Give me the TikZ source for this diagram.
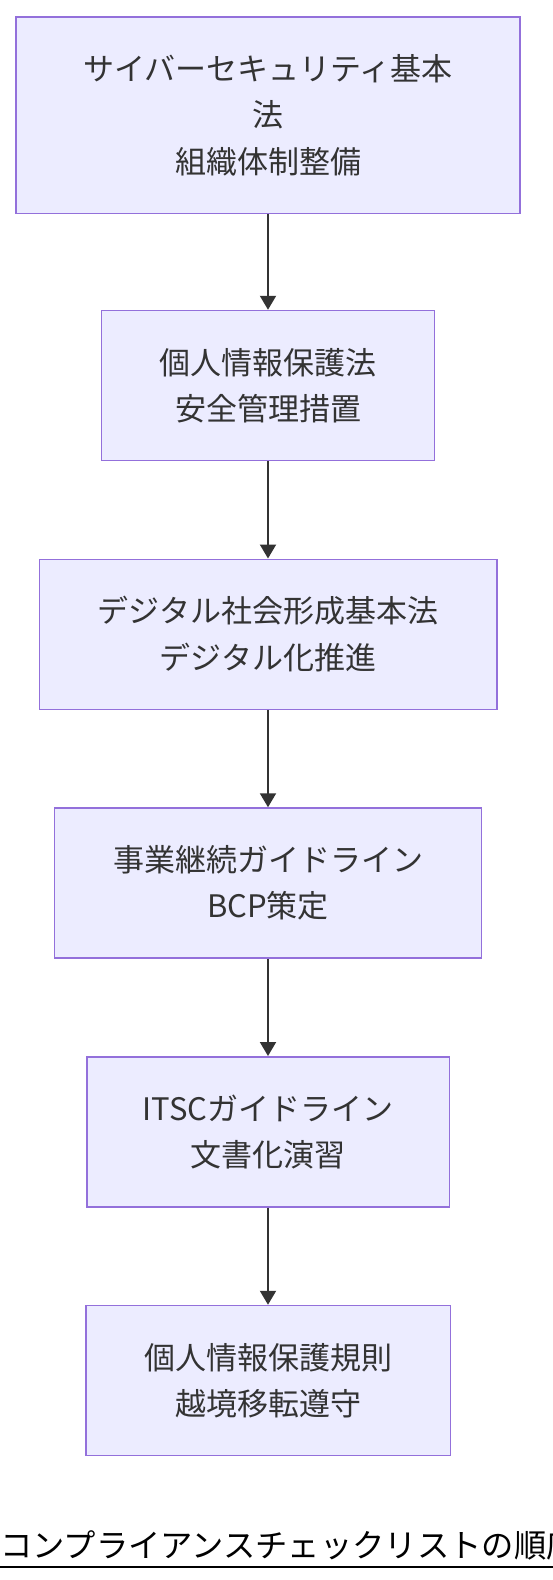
\documentclass[tikz,border=0pt]{standalone}
\usepackage{fontspec}
\setmainfont{Noto Sans CJK JP}
\usetikzlibrary{arrows.meta}
\definecolor{boxfill}{HTML}{ECECFF}
\definecolor{boxline}{HTML}{9370DB}
\definecolor{ink}{HTML}{333333}
\begin{document}
\begin{tikzpicture}[
        x = 1pt, y = -1pt,
        law/.style = {draw = boxline, fill = boxfill, line width = 1.5pt, text = ink,
          align = center, inner sep = 0pt, minimum height = 150pt,
          font = \fontsize{31}{46.5}\selectfont},
        flow/.style = {draw = ink, line width = 2pt,
          -{Triangle[width = 16pt, length = 14pt]}}]
      \useasboundingbox (0, 0) rectangle (552, 1580);
      \node [law, minimum width = 504pt, minimum height = 196.5pt] (cyber) at (268, 115)
        {サイバーセキュリティ基本\\法\\組織体制整備};
      \node [law, minimum width = 333pt] (privacy) at (268, 385.5) {個人情報保護法\\安全管理措置};
      \node [law, minimum width = 457.5pt] (digital) at (268, 634.25) {デジタル社会形成基本法\\デジタル化推進};
      \node [law, minimum width = 427pt] (bcp) at (268, 883) {事業継続ガイドライン\\BCP策定};
      \node [law, minimum width = 362.5pt] (itsc) at (268, 1131.75) {ITSCガイドライン\\文書化演習};
      \node [law, minimum width = 364.5pt] (rules) at (268, 1380.5) {個人情報保護規則\\越境移転遵守};
      \draw [flow] (cyber) -- (privacy);
      \draw [flow] (privacy) -- (digital);
      \draw [flow] (digital) -- (bcp);
      \draw [flow] (bcp) -- (itsc);
      \draw [flow] (itsc) -- (rules);
      % title, cut off at the right edge
      \node [anchor = base west, inner sep = 0pt, font = \fontsize{32.3}{40}\selectfont] (title) at (0, 1557)
        {コンプライアンスチェックリストの順序};
      \draw [line width = 2pt] ([yshift = -10pt] title.base west) -- ([yshift = -10pt] title.base east);
    \end{tikzpicture}
\end{document}
